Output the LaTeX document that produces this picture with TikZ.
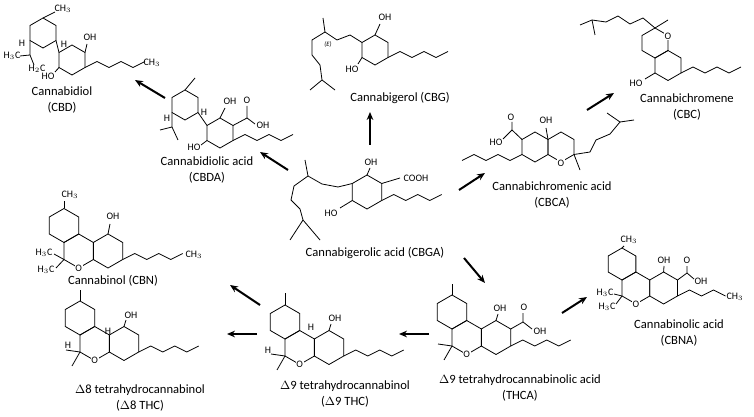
\documentclass[tikz,border=0pt]{standalone}
\usepackage{fontspec}
\setmainfont{Carlito}
\usetikzlibrary{arrows.meta}
% ring: [radius]{cx}{cy}, pointy top
\newcommand\ring[3][17]{\draw[bond] ({#2+#1*0.866},{#3-#1*0.5})--(#2,{#3-#1})--({#2-#1*0.866},{#3-#1*0.5})--({#2-#1*0.866},{#3+#1*0.5})--(#2,{#3+#1})--({#2+#1*0.866},{#3+#1*0.5})--cycle;}
\newcommand\pent[2]{\draw[bond] (#1,#2)--++(12,-6)--++(12,6)--++(12,-6)--++(12,6)--++(12,-6);}
\newcommand\pentl[2]{\draw[bond] (#1,#2)--++(-12,6)--++(-12,-6)--++(-12,6)--++(-12,-6)--++(-12,6);}
\begin{document}
\begin{tikzpicture}[x=0.0265cm,y=-0.0265cm,
 bond/.style={line width=0.6pt},
 lab/.style={font=\fontsize{9.5}{11.5}\selectfont,align=center},
 atm/.style={font=\fontsize{7.5}{8}\selectfont,inner sep=0.5pt},
 arr/.style={-{Stealth[length=6pt,width=5pt]},line width=1.5pt}]
\useasboundingbox (0,0) rectangle (754,417);
% ---- labels
\node[lab] (cbd) at (62,100) {Cannabidiol\\(CBD)};
\node[lab] (cbg) at (400,98) {Cannabigerol (CBG)};
\node[lab] (cbc) at (687,107) {Cannabichromene\\(CBC)};
\node[lab] (cbda) at (207,170) {Cannabidiolic acid\\(CBDA)};
\node[lab] (cbca) at (552,195) {Cannabichromenic acid\\(CBCA)};
\node[lab] (cbn) at (113,281) {Cannabinol (CBN)};
\node[lab] (cbga) at (375,253) {Cannabigerolic acid (CBGA)};
\node[lab] (cbna) at (679,333) {Cannabinolic acid\\(CBNA)};
\node[lab] (d8) at (140,398) {$\Delta$8 tetrahydrocannabinol\\($\Delta$8 THC)};
\node[lab] (d9) at (345,394) {$\Delta$9 tetrahydrocannabinol\\($\Delta$9 THC)};
\node[lab] (thca) at (520,388) {$\Delta$9 tetrahydrocannabinolic acid\\(THCA)};
% ---- arrows
\coordinate (a1) at (165,98); \coordinate (b1) at (135,80);
\draw[arr] (a1)--(b1);
\coordinate (a2) at (370,145); \coordinate (b2) at (370,112);
\draw[arr] (a2)--(b2);
\coordinate (a3) at (288,170); \coordinate (b3) at (260,152);
\draw[arr] (a3)--(b3);
\coordinate (a4) at (459,190); \coordinate (b4) at (485,173);
\draw[arr] (a4)--(b4);
\coordinate (a5) at (587,110); \coordinate (b5) at (614,93);
\draw[arr] (a5)--(b5);
\coordinate (a6) at (464,258); \coordinate (b6) at (485,283);
\draw[arr] (a6)--(b6);
\coordinate (a7) at (429,334); \coordinate (b7) at (399,334);
\draw[arr] (a7)--(b7);
\coordinate (a8) at (260,305); \coordinate (b8) at (230,285);
\draw[arr] (a8)--(b8);
\coordinate (a9) at (257,334); \coordinate (b9) at (227,334);
\draw[arr] (a9)--(b9);
\coordinate (a10) at (562,313); \coordinate (b10) at (587,297);
\draw[arr] (a10)--(b10);
% ---- CBD
\ring[15]{43}{33}\ring[15]{72}{60}
\draw[bond] (43,18)--(55,12); \node[atm] at (63,9) {CH$_3$};
\draw[bond] (56,40.5)--(59,52.5);
\draw[bond] (30,40.5)--(30,55)--(20,56); \draw[bond] (30,55)--(34,65);
\node[atm] at (12,56) {H$_3$C}; \node[atm] at (37,69) {H$_2$C};
\node[atm] at (22,43) {H}; \node[atm] at (64,44) {H};
\draw[bond] (85,52.5)--(87,44); \node[atm] at (90,37) {OH};
\draw[bond] (59,67.5)--(55,72); \node[atm] at (48,76) {HO};
\pent{85}{67.5} \node[atm] at (152,63) {CH$_3$};
% ---- CBDA
\ring[15]{185}{105}\ring[15]{220}{133}
\draw[bond] (185,90)--(195,78);
\draw[bond] (198,112.5)--(207,125.5);
\draw[bond] (172,112.5)--(172,127)--(160,130); \draw[bond] (172,127)--(178,140);
\node[atm] at (167,118) {H}; \node[atm] at (204,112) {H};
\draw[bond] (220,118)--(225,108); \node[atm] at (230,101) {OH};
\draw[bond] (233,125.5)--(247,118)--(247,106); \node[atm] at (247,100) {O};
\draw[bond] (247,118)--(255,124); \node[atm] at (263,125) {OH};
\draw[bond] (207,140.5)--(201,145); \node[atm] at (194,147) {HO};
\pent{233}{140.5}
% ---- CBG
\ring[15]{375}{50}
\draw[bond] (375,35)--(380,24); \node[atm] at (385,17) {OH};
\draw[bond] (362,57.5)--(358,64); \node[atm] at (352,69) {HO};
\pent{388}{57.5}
\draw[bond] (362,42.5)--(350,35)--(337,40)--(325,32)--(323,18);
\draw[bond] (325,32)--(312,40)--(312,55)--(320,65)--(322,80)--(310,90);
\draw[bond] (322,80)--(335,90);
\node[atm] at (328,45) {\tiny\itshape(E)};
% ---- CBC
\ring[15]{655}{43}\ring[15]{668}{65.5}
\node[atm,fill=white] at (668,36) {O};
\draw[bond] (655,73)--(645,79); \node[atm] at (636,83) {HO};
\pent{681}{73}
\draw[bond] (655,28)--(668,20);
\draw[bond] (655,28)--(643,18)--(630,24)--(618,16)--(606,22)--(592,20)--(580,25);
\draw[bond] (592,20)--(595,35);
% ---- CBCA
\ring[15]{535}{147}\ring[15]{561}{147}
\node[atm,fill=white] at (561,163) {O};
\draw[bond] (548,139.5)--(546,128); \node[atm] at (546,120) {OH};
\draw[bond] (522,139.5)--(512,130)--(512,122); \node[atm] at (511,117) {O};
\draw[bond] (512,130)--(503,139); \node[atm] at (496,142) {HO};
\pentl{522}{154.5}
\draw[bond] (574,154.5)--(580,170);
\draw[bond] (574,154.5)--(590,152)--(596,140)--(610,134)--(620,122)--(607,113);
\draw[bond] (620,122)--(634,120);
% ---- CBGA
\ring{367}{192}
\draw[bond] (367,175)--(370,168); \node[atm] at (371,162) {OH};
\draw[bond] (381.7,183.5)--(400,178); \node[atm] at (416,178) {COOH};
\draw[bond] (352.3,200.5)--(340,208); \node[atm] at (331,213) {HO};
\pent{381.7}{200.5}
\draw[bond] (352.3,183.5)--(338,187)--(322,184)--(308,176)--(305,160);
\draw[bond] (308,176)--(294,186)--(291,200)--(300,209)--(303,220)--(290,240);
\draw[bond] (303,220)--(320,240);
% ---- CBN
\ring{64}{225.5}\ring{78.7}{251}\ring{108}{251}
\draw[bond] (64,208.5)--(64,201); \node[atm] at (70,195) {CH$_3$};
\node[atm,fill=white] at (78.7,268) {O};
\draw[bond] (64,259.5)--(54,254); \node[atm] at (44,253) {H$_3$C};
\draw[bond] (64,259.5)--(56,268); \node[atm] at (46,270) {H$_3$C};
\draw[bond] (108,234)--(110,224); \node[atm] at (113,216) {OH};
\pent{122.7}{259.5} \node[atm] at (194,255) {CH$_3$};
% ---- D8 THC
\ring{80}{318}\ring{94.7}{343.5}\ring{124}{343.5}
\draw[bond] (80,301)--(80,290);
\node[atm,fill=white] at (94.7,360.5) {O};
\draw[bond] (80,352)--(72,366); \draw[bond] (80,352)--(66,350);
\node[atm] at (68,345) {H}; \node[atm] at (108,331) {H};
\draw[bond] (124,326.5)--(126,320); \node[atm] at (131,315) {OH};
\pent{138.7}{352}
% ---- D9 THC
\ring{285}{322}\ring{299.7}{347.5}\ring{329}{347.5}
\draw[bond] (285,305)--(285,293);
\node[atm,fill=white] at (299.7,364.5) {O};
\draw[bond] (285,356)--(277,370); \draw[bond] (285,356)--(271,354);
\node[atm] at (268,350) {H}; \node[atm] at (311,327) {H};
\draw[bond] (329,330.5)--(331,324); \node[atm] at (335,318) {OH};
\pent{343.7}{356}
% ---- THCA
\ring{452}{312}\ring{466.7}{337.5}\ring{496}{337.5}
\draw[bond] (452,295)--(452,284);
\node[atm,fill=white] at (466.7,354.5) {O};
\draw[bond] (452,346)--(444,360); \draw[bond] (452,346)--(438,344);
\draw[bond] (496,320.5)--(498,314); \node[atm] at (500,308) {OH};
\draw[bond] (510.7,329)--(523,322)--(523,313); \node[atm] at (524,307) {O};
\draw[bond] (523,322)--(532,329); \node[atm] at (540,331) {OH};
\pent{510.7}{346}
% ---- CBNA
\ring[16]{622}{264}\ring[16]{635.9}{288}\ring[16]{663.6}{288}
\draw[bond] (622,248)--(624,246); \node[atm] at (629,240) {CH$_3$};
\node[atm,fill=white] at (635.9,304) {O};
\draw[bond] (622,296)--(614,294); \node[atm] at (605,293) {H$_3$C};
\draw[bond] (622,296)--(616,304); \node[atm] at (607,307) {H$_3$C};
\draw[bond] (663.6,272)--(664,266); \node[atm] at (664,260) {OH};
\draw[bond] (677.5,280)--(687,273)--(687,266); \node[atm] at (687,260) {O};
\draw[bond] (687,273)--(694,279); \node[atm] at (701,281) {OH};
\draw[bond] (677.5,296)--++(12,-6)--++(12,6)--++(12,-6)--++(12,6);
\node[atm] at (735,297) {CH$_3$};
\end{tikzpicture}
\end{document}
